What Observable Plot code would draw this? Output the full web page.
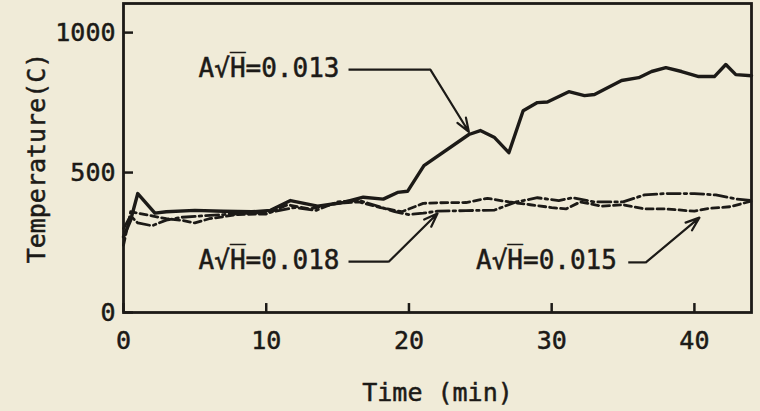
<!DOCTYPE html>
<html><head><meta charset="utf-8">
<script src="https://cdn.jsdelivr.net/npm/d3@7"></script>
<script src="https://cdn.jsdelivr.net/npm/@observablehq/plot@0.6"></script>
<style>html,body{margin:0;padding:0;background:#f0ebd8;} svg text{stroke:#1c1a17;stroke-width:0.5px;}</style>
</head><body><div id="chart"></div>
<script>
// Series A√H = 0.013 (solid)
const t013 = [0, 0.5, 1.0, 1.6, 2.2, 3, 5, 7, 9, 10.3, 11.7, 13.6, 15.4, 16.8, 18.2, 19.2, 19.9, 21.05, 24.2, 25, 26, 27, 28, 29, 29.7, 31.2, 32.3, 33, 34.9, 36.1, 37, 38, 39.1, 40.3, 41.4, 42.2, 42.9, 44];
const v013 = [270, 330, 425, 390, 355, 360, 365, 362, 360, 365, 400, 380, 393, 412, 405, 429, 433, 525, 636, 650, 625, 571, 721, 750, 752, 789, 775, 779, 829, 839, 861, 875, 861, 843, 843, 886, 850, 846];
// Series A√H = 0.018 (dash-dot)
const t018 = [0, 0.5, 1, 2, 3, 4, 5.5, 7, 9, 10.5, 12, 13.5, 15, 16.5, 17.5, 19, 20, 21, 22, 24, 26, 27.5, 29, 30.5, 31.5, 33, 35, 36.5, 38, 40, 41.5, 43, 44];
const v018 = [300, 345, 320, 310, 330, 340, 345, 350, 355, 360, 375, 365, 395, 400, 385, 360, 350, 355, 362, 364, 366, 395, 410, 400, 410, 395, 395, 420, 425, 425, 420, 405, 400];
// Series A√H = 0.015 (dashed)
const t015 = [0, 0.5, 1, 2, 3, 4, 5, 6, 8, 10, 11.5, 13, 15, 16.5, 18, 19.5, 21, 22, 24, 25.5, 27, 28.5, 30, 31, 32, 33.5, 35, 36.5, 38, 40, 41, 42.5, 44];
const v015 = [240, 360, 355, 345, 335, 330, 320, 335, 350, 352, 385, 370, 390, 395, 375, 360, 390, 392, 393, 408, 395, 385, 375, 370, 395, 380, 385, 370, 370, 362, 372, 378, 398];

// Axis ticks
const xTicks = [0, 10, 20, 30, 40];
const yTicks = [0, 500, 1000];

// Annotation labels
const labelText = ["A\u221AH\u0305=0.013", "A\u221AH\u0305=0.018", "A\u221AH\u0305=0.015"];
const labelX = [5.26, 5.26, 24.7];
const labelY = [871, 186, 186];
// Leader lines: horizontal segment then arrow to the curve
const leaderX1 = [15.8, 15.8, 35.4];
const leaderX2 = [21.5, 18.6, 36.6];
const leaderY = [868, 182, 179];
const tipX = [24.2, 22.0, 40.35];
const tipY = [645, 354, 339];

const ink = "#1c1a17";
const s013 = t013.map((t, i) => ({t, v: v013[i]}));
const s018 = t018.map((t, i) => ({t, v: v018[i]}));
const s015 = t015.map((t, i) => ({t, v: v015[i]}));
const labels = labelText.map((s, i) => ({s, x: labelX[i], y: labelY[i]}));
const leaders = leaderX1.map((x1, i) => ({x1, x2: leaderX2[i], y: leaderY[i], tx: tipX[i], ty: tipY[i]}));

const chart = Plot.plot({
  width: 760,
  height: 411,
  marginLeft: 123,
  marginRight: 9,
  marginTop: 3,
  marginBottom: 99,
  style: {background: "#f0ebd8", color: ink, fontFamily: "'DejaVu Sans Mono', monospace", fontSize: "25px"},
  x: {domain: [0, 44]},
  y: {domain: [0, 1104]},
  marks: [
    Plot.line(s015, {x: "t", y: "v", stroke: ink, strokeWidth: 2.8, strokeDasharray: "7,4"}),
    Plot.line(s018, {x: "t", y: "v", stroke: ink, strokeWidth: 2.8, strokeDasharray: "13,4,2.5,4"}),
    Plot.line(s013, {x: "t", y: "v", stroke: ink, strokeWidth: 3.4, strokeLinejoin: "round"}),
    Plot.ruleY(leaders, {y: "y", x1: "x1", x2: "x2", stroke: ink, strokeWidth: 2.2}),
    Plot.arrow(leaders, {x1: "x2", y1: "y", x2: "tx", y2: "ty", stroke: ink, strokeWidth: 2.2, headLength: 10, headAngle: 40}),
    Plot.text(labels, {x: "x", y: "y", text: "s", textAnchor: "start", fontSize: 26, fill: ink}),
    // inward tick marks
    Plot.ruleX(xTicks, {x: d => d, y1: 0, y2: 32, stroke: ink, strokeWidth: 2.5}),
    Plot.ruleY(yTicks, {y: d => d, x1: 0, x2: 0.7, stroke: ink, strokeWidth: 2.5}),
    Plot.frame({stroke: ink, strokeWidth: 2.8}),
    Plot.axisY({ticks: yTicks, tickSize: 0, tickPadding: 8, tickFormat: d => String(d), label: "Temperature(C)", labelAnchor: "center", labelOffset: 96, labelArrow: "none"}),
    Plot.axisX({ticks: xTicks, tickSize: 0, tickPadding: 19, tickFormat: d => String(d), label: "Time (min)", labelAnchor: "center", labelOffset: 88, labelArrow: "none"})
  ]
});
document.getElementById("chart").appendChild(chart);
</script>
</body></html>
